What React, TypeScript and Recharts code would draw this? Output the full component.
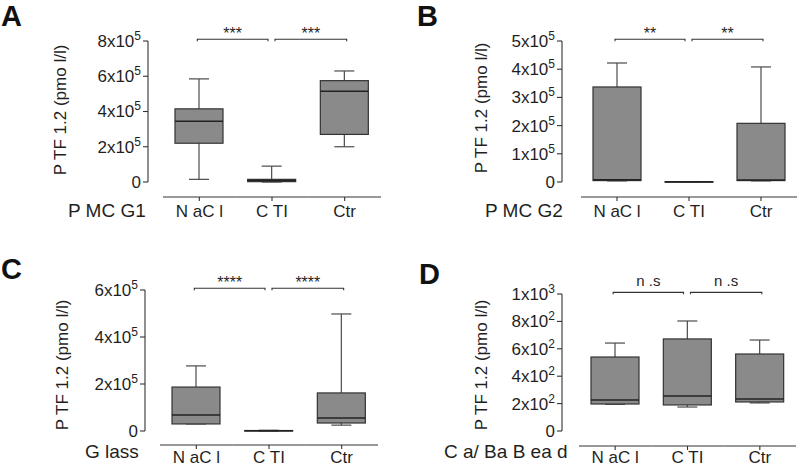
import React from "react";
import { ComposedChart, Bar, XAxis, YAxis, ReferenceLine } from "recharts";

const FONT = "'Liberation Sans', Arial, sans-serif";
const INK = "#1f1f1f";

const categories = ["N aC l", "C TI", "Ctr"];

// [min, q1, median, q3, max] for each category
const pmcG1 = [
  [0.15e5, 2.2e5, 3.45e5, 4.15e5, 5.85e5],
  [0, 0.02e5, 0.08e5, 0.15e5, 0.9e5],
  [2.0e5, 2.7e5, 5.15e5, 5.75e5, 6.3e5],
];
const pmcG2 = [
  [0.04e5, 0.05e5, 0.08e5, 3.37e5, 4.22e5],
  [0, 0, 0.005e5, 0.01e5, 0.012e5],
  [0.04e5, 0.05e5, 0.07e5, 2.08e5, 4.08e5],
];
const glass = [
  [0.3e5, 0.3e5, 0.68e5, 1.87e5, 2.77e5],
  [0, 0, 0.01e5, 0.02e5, 0.03e5],
  [0.25e5, 0.34e5, 0.55e5, 1.62e5, 4.98e5],
];
const beads = [
  [195, 197, 226, 540, 642],
  [175, 190, 255, 672, 803],
  [205, 212, 233, 562, 664],
];

const ticksA = [0, 2e5, 4e5, 6e5, 8e5];
const labelsA = ["0", "2x10^5", "4x10^5", "6x10^5", "8x10^5"];
const ticksB = [0, 1e5, 2e5, 3e5, 4e5, 5e5];
const labelsB = ["0", "1x10^5", "2x10^5", "3x10^5", "4x10^5", "5x10^5"];
const ticksC = [0, 2e5, 4e5, 6e5];
const labelsC = ["0", "2x10^5", "4x10^5", "6x10^5"];
const ticksD = [0, 200, 400, 600, 800, 1000];
const labelsD = ["0", "2x10^2", "4x10^2", "6x10^2", "8x10^2", "1x10^3"];

const sigA = ["***", "***"];
const sigB = ["**", "**"];
const sigC = ["****", "****"];
const sigD = ["n .s", "n .s"];

const yLabel = "P TF 1.2 (pmo l/l)";

function BoxShape(p: any) {
  const { x, y, width, height } = p;
  const d = p.payload ?? p;
  const span = d.max - d.min;
  const py = (v: number) => (span > 0 ? y + (height * (d.max - v)) / span : y);
  const cx = x + width / 2;
  const cap = 10;
  return (
    <g>
      <line x1={cx} x2={cx} y1={py(d.max)} y2={py(d.q3)} stroke="#4a4a4a" strokeWidth={1.2} />
      <line x1={cx} x2={cx} y1={py(d.q1)} y2={py(d.min)} stroke="#4a4a4a" strokeWidth={1.2} />
      <line x1={cx - cap} x2={cx + cap} y1={py(d.max)} y2={py(d.max)} stroke="#4a4a4a" strokeWidth={1.2} />
      <line x1={cx - cap} x2={cx + cap} y1={py(d.min)} y2={py(d.min)} stroke="#4a4a4a" strokeWidth={1.2} />
      <rect x={x} y={py(d.q3)} width={width} height={Math.max(py(d.q1) - py(d.q3), 0.5)} fill="#8a8a8a" stroke="#333" strokeWidth={1.2} />
      <line x1={x} x2={x + width} y1={py(d.median)} y2={py(d.median)} stroke="#222" strokeWidth={1.5} />
    </g>
  );
}

function SigShape(p: any) {
  const { x1, y1, x2, text, side, ns } = p;
  const a = side === "left" ? x1 - 2 : x1 + 3;
  const b = side === "left" ? x2 - 4 : x2 + 2;
  return (
    <g>
      <path d={`M${a},${y1 + 2}L${a},${y1}L${b},${y1}L${b},${y1 + 2}`} fill="none" stroke="#333" strokeWidth={1.1} />
      <text x={(a + b) / 2} y={ns ? y1 - 6 : y1} textAnchor="middle" fontSize={ns ? 15 : 16} fontFamily={FONT} fill={INK}>
        {text}
      </text>
    </g>
  );
}

type PanelProps = {
  stats: number[][];
  ticks: number[];
  labels: string[];
  sig: string[];
  axisX: number;
  top: number;
  zeroY: number;
  lineY: number;
  xStart: number;
  xEnd: number;
  labelY: number;
  ns?: boolean;
};

function Panel({ stats, ticks, labels, sig, axisX, top, zeroY, lineY, xStart, xEnd, labelY, ns }: PanelProps) {
  const rows = categories.map((name, i) => ({
    name,
    min: stats[i][0],
    q1: stats[i][1],
    median: stats[i][2],
    q3: stats[i][3],
    max: stats[i][4],
  }));
  const yMax = ticks[ticks.length - 1];
  const sigY = yMax * 1.012;
  const bw = (xEnd - xStart) / categories.length;
  const yw = 100;
  const xh = 30;

  const yTick = (t: any) => {
    const lab = labels[ticks.indexOf(t.payload.value)] ?? String(t.payload.value);
    const [base, exp] = lab.split("^");
    return (
      <text x={t.x} y={t.y} dy="0.35em" textAnchor="end" fontSize={17} fontFamily={FONT} fill={INK}>
        {base}
        {exp && (
          <tspan dy={-7} fontSize={12}>
            {exp}
          </tspan>
        )}
      </text>
    );
  };

  const xTick = (t: any) => (
    <g>
      <line x1={t.x - bw / 2} x2={t.x + bw / 2} y1={lineY} y2={lineY} stroke="#333" strokeWidth={1.1} />
      <line x1={t.x} x2={t.x} y1={lineY} y2={lineY + 4} stroke="#333" strokeWidth={1.1} />
      <text x={t.x} y={labelY} textAnchor="middle" fontSize={17} fontFamily={FONT} fill={INK}>
        {t.payload.value}
      </text>
    </g>
  );

  return (
    <ComposedChart
      width={400}
      height={233}
      data={rows}
      margin={{ top, right: 400 - xEnd, left: axisX - yw, bottom: 233 - zeroY - xh }}
    >
      <XAxis
        dataKey="name"
        type="category"
        height={xh}
        padding={{ left: xStart - axisX, right: 0 }}
        axisLine={false}
        tickLine={false}
        interval={0}
        tick={xTick}
      />
      <YAxis
        type="number"
        width={yw}
        domain={[0, yMax]}
        ticks={ticks}
        interval={0}
        tickSize={5}
        tickMargin={2}
        axisLine={{ stroke: "#333", strokeWidth: 1.1 }}
        tickLine={{ stroke: "#333", strokeWidth: 1.1 }}
        tick={yTick}
      />
      <Bar dataKey={(d: any) => [d.min, d.max]} barSize={48} shape={(p: any) => <BoxShape {...p} />} isAnimationActive={false} />
      <ReferenceLine
        ifOverflow="visible"
        segment={[
          { x: categories[0], y: sigY },
          { x: categories[1], y: sigY },
        ]}
        shape={(p: any) => <SigShape {...p} text={sig[0]} side="left" ns={ns} />}
      />
      <ReferenceLine
        ifOverflow="visible"
        segment={[
          { x: categories[1], y: sigY },
          { x: categories[2], y: sigY },
        ]}
        shape={(p: any) => <SigShape {...p} text={sig[1]} side="right" ns={ns} />}
      />
    </ComposedChart>
  );
}

const letterStyle = { fontFamily: FONT, fontWeight: 700, fontSize: 29, fill: "#111" };
const groupStyle = { fontFamily: FONT, fontSize: 19, fill: INK };
const yLabStyle = { fontFamily: FONT, fontSize: 17, fill: INK };

export default function App() {
  return (
    <div style={{ position: "absolute", left: 0, top: 0, width: 800, height: 466, background: "#fff", overflow: "hidden" }}>
      <div style={{ position: "absolute", left: 0, top: 0 }}>
        <Panel stats={pmcG1} ticks={ticksA} labels={labelsA} sig={sigA} axisX={148} top={41} zeroY={182} lineY={197} xStart={163} xEnd={381} labelY={217} />
      </div>
      <div style={{ position: "absolute", left: 400, top: 0 }}>
        <Panel stats={pmcG2} ticks={ticksB} labels={labelsB} sig={sigB} axisX={162} top={41} zeroY={182} lineY={197} xStart={181} xEnd={397} labelY={217} />
      </div>
      <div style={{ position: "absolute", left: 0, top: 233 }}>
        <Panel stats={glass} ticks={ticksC} labels={labelsC} sig={sigC} axisX={145} top={57} zeroY={198} lineY={212} xStart={160} xEnd={378} labelY={230} />
      </div>
      <div style={{ position: "absolute", left: 400, top: 233 }}>
        <Panel stats={beads} ticks={ticksD} labels={labelsD} sig={sigD} axisX={162} top={61} zeroY={198} lineY={213} xStart={179} xEnd={396} labelY={230} ns />
      </div>
      <svg width={800} height={466} style={{ position: "absolute", left: 0, top: 0, pointerEvents: "none" }}>
        <text x={1} y={26} style={letterStyle}>A</text>
        <text x={417} y={26} style={letterStyle}>B</text>
        <text x={1} y={279} style={letterStyle}>C</text>
        <text x={419} y={284} style={letterStyle}>D</text>
        <text x={68} y={217} style={groupStyle}>P MC G1</text>
        <text x={485} y={217} style={groupStyle}>P MC G2</text>
        <text x={85} y={458} style={groupStyle}>G lass</text>
        <text x={444} y={458} style={groupStyle}>C a/ Ba B ea d</text>
        <text x={60} y={110} dy="0.35em" textAnchor="middle" transform="rotate(-90 60 110)" style={yLabStyle}>{yLabel}</text>
        <text x={481} y={108} dy="0.35em" textAnchor="middle" transform="rotate(-90 481 108)" style={yLabStyle}>{yLabel}</text>
        <text x={62} y={365} dy="0.35em" textAnchor="middle" transform="rotate(-90 62 365)" style={yLabStyle}>{yLabel}</text>
        <text x={481} y={365} dy="0.35em" textAnchor="middle" transform="rotate(-90 481 365)" style={yLabStyle}>{yLabel}</text>
      </svg>
    </div>
  );
}
